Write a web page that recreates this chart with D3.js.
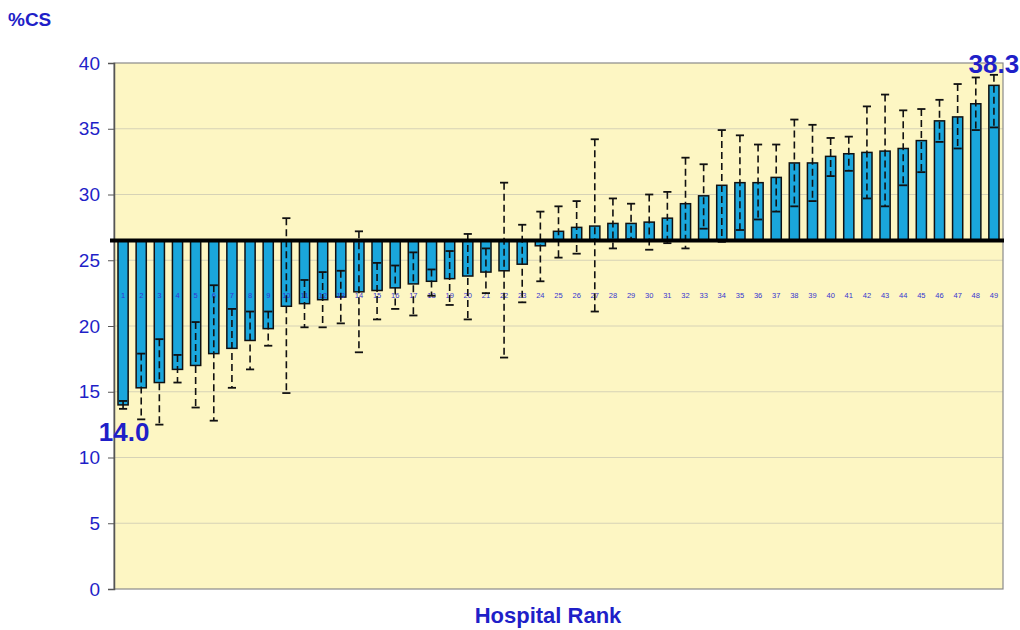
<!DOCTYPE html>
<html>
<head>
<meta charset="utf-8">
<script src="https://cdn.jsdelivr.net/npm/d3@7"></script>
<style>
  body { margin: 0; background: #ffffff; }
  svg { display: block; font-family: Arial, "Liberation Sans", sans-serif; }
</style>
</head>
<body>
<div id="chart"></div>
<script>
// ==============================
// DATA
// ==============================
const ranks = d3.range(1, 50);
const rates = [14.0, 15.3, 15.7, 16.7, 17.0, 17.9, 18.3, 18.9, 19.8, 21.5,
  21.7, 22.0, 22.2, 22.6, 22.7, 22.9, 23.2, 23.4, 23.6, 23.8,
  24.1, 24.2, 24.7, 26.1, 27.2, 27.5, 27.6, 27.8, 27.8, 27.9,
  28.2, 29.3, 29.9, 30.7, 30.9, 30.9, 31.3, 32.4, 32.4, 32.9,
  33.1, 33.2, 33.3, 33.5, 34.1, 35.6, 35.9, 36.9, 38.3];
const lower = [13.7, 12.9, 12.5, 15.7, 13.8, 12.8, 15.3, 16.7, 18.5, 14.9,
  19.9, 19.9, 20.2, 18.0, 20.5, 21.3, 20.8, 22.3, 21.6, 20.5,
  22.5, 17.6, 21.8, 23.4, 25.2, 25.5, 21.1, 25.9, 26.6, 25.8,
  26.3, 25.9, 27.4, 26.4, 27.3, 28.1, 28.7, 29.1, 29.5, 31.4,
  31.8, 29.7, 29.1, 30.7, 31.7, 34.0, 33.5, 34.9, 35.1];
const upper = [14.3, 17.9, 19.0, 17.8, 20.3, 23.1, 21.3, 21.1, 21.1, 28.2,
  23.5, 24.1, 24.2, 27.2, 24.8, 24.6, 25.6, 24.3, 25.7, 27.0,
  25.9, 30.9, 27.7, 28.7, 29.1, 29.5, 34.2, 29.7, 29.3, 30.0,
  30.2, 32.8, 32.3, 34.9, 34.5, 33.8, 33.8, 35.7, 35.3, 34.3,
  34.4, 36.7, 37.6, 36.4, 36.5, 37.2, 38.4, 38.9, 39.1];
const average = 26.5;
const yTicks = [0, 5, 10, 15, 20, 25, 30, 35, 40];

const rows = ranks.map((r, i) => ({ rank: r, rate: rates[i], lo: lower[i], hi: upper[i] }));

// ==============================
// SVG SETUP
// ==============================
const width = 1020;
const height = 630;
const margin = { top: 63, right: 17, bottom: 41, left: 114 };
const innerW = width - margin.left - margin.right;
const innerH = height - margin.top - margin.bottom;
const textBlue = "#1f1fc8";

const svg = d3.select("#chart").append("svg")
  .attr("width", width)
  .attr("height", height);

const x = d3.scaleBand()
  .domain(ranks)
  .range([margin.left, margin.left + innerW])
  .paddingInner(0.44)
  .paddingOuter(0.22);

const y = d3.scaleLinear()
  .domain([0, 40])
  .range([margin.top + innerH, margin.top]);

// plot background
svg.append("rect")
  .attr("x", margin.left)
  .attr("y", margin.top)
  .attr("width", innerW)
  .attr("height", innerH)
  .attr("fill", "#fdf6c3");

// gridlines
svg.append("g")
  .selectAll("line")
  .data(yTicks.filter(t => t > 0 && t < 40))
  .join("line")
  .attr("x1", margin.left)
  .attr("x2", margin.left + innerW)
  .attr("y1", d => y(d))
  .attr("y2", d => y(d))
  .attr("stroke", "#d6d2b6")
  .attr("stroke-width", 1);

// plot border
svg.append("rect")
  .attr("x", margin.left)
  .attr("y", margin.top)
  .attr("width", innerW)
  .attr("height", innerH)
  .attr("fill", "none")
  .attr("stroke", "#8a8a8a")
  .attr("stroke-width", 1.2);

// y axis
const yAxis = svg.append("g")
  .attr("transform", `translate(${margin.left},0)`)
  .call(d3.axisLeft(y).tickValues(yTicks).tickSize(6).tickPadding(8));
yAxis.select(".domain").attr("stroke", "#555").attr("stroke-width", 1.5);
yAxis.selectAll(".tick line").attr("stroke", "#555");
yAxis.selectAll("text")
  .attr("fill", textBlue)
  .attr("font-size", 19)
  .attr("font-family", "Arial, 'Liberation Sans', sans-serif");

// ==============================
// BARS (from the average line)
// ==============================
const bw = x.bandwidth();

svg.append("g")
  .selectAll("rect")
  .data(rows)
  .join("rect")
  .attr("x", d => x(d.rank))
  .attr("y", d => y(Math.max(d.rate, average)))
  .attr("width", bw)
  .attr("height", d => Math.abs(y(d.rate) - y(average)))
  .attr("fill", "#1aa6dc")
  .attr("stroke", "#111")
  .attr("stroke-width", 1.5);

// rank numbers
svg.append("g")
  .selectAll("text")
  .data(rows)
  .join("text")
  .attr("x", d => x(d.rank) + bw / 2)
  .attr("y", y(22.1))
  .attr("text-anchor", "middle")
  .attr("font-size", 7.5)
  .attr("fill", "#3535d0")
  .text(d => d.rank);

// error bars
const err = svg.append("g").attr("stroke", "#111");

err.selectAll("line.whisker")
  .data(rows)
  .join("line")
  .attr("class", "whisker")
  .attr("x1", d => x(d.rank) + bw / 2)
  .attr("x2", d => x(d.rank) + bw / 2)
  .attr("y1", d => y(d.hi))
  .attr("y2", d => y(d.lo))
  .attr("stroke-width", 1.6)
  .attr("stroke-dasharray", "7,4");

["lo", "hi"].forEach(k => {
  err.selectAll("line.cap-" + k)
    .data(rows)
    .join("line")
    .attr("class", "cap-" + k)
    .attr("x1", d => x(d.rank) + 1)
    .attr("x2", d => x(d.rank) + bw - 1)
    .attr("y1", d => y(d[k]))
    .attr("y2", d => y(d[k]))
    .attr("stroke-width", 1.8);
});

// average line
svg.append("line")
  .attr("x1", margin.left - 4)
  .attr("x2", margin.left + innerW + 1)
  .attr("y1", y(average))
  .attr("y2", y(average))
  .attr("stroke", "#000")
  .attr("stroke-width", 4);

// ==============================
// LABELS
// ==============================
const first = rows[0];
const last = rows[rows.length - 1];

svg.append("text")
  .attr("x", x(first.rank) + bw / 2 + 1)
  .attr("y", y(first.rate) + 36)
  .attr("text-anchor", "middle")
  .attr("font-size", 26)
  .attr("font-weight", "bold")
  .attr("fill", textBlue)
  .text(first.rate.toFixed(1));

svg.append("text")
  .attr("x", x(last.rank) + bw / 2)
  .attr("y", y(last.rate) - 12)
  .attr("text-anchor", "middle")
  .attr("font-size", 26)
  .attr("font-weight", "bold")
  .attr("fill", textBlue)
  .text(last.rate.toFixed(1));

svg.append("text")
  .attr("x", 8)
  .attr("y", 26)
  .attr("font-size", 19)
  .attr("font-weight", "bold")
  .attr("fill", textBlue)
  .text("%CS");

svg.append("text")
  .attr("x", 548)
  .attr("y", 623)
  .attr("text-anchor", "middle")
  .attr("font-size", 22)
  .attr("font-weight", "bold")
  .attr("fill", textBlue)
  .text("Hospital Rank");
</script>
</body>
</html>
